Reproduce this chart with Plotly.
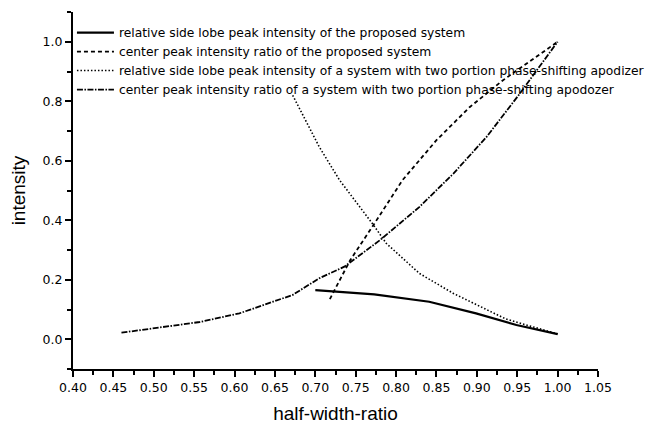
import plotly.graph_objects as go

# relative side lobe peak intensity of the proposed system
x_sl_prop = [0.700, 0.773, 0.841, 0.899, 0.949, 1.000]
y_sl_prop = [0.165, 0.151, 0.126, 0.087, 0.048, 0.017]

# center peak intensity ratio of the proposed system
x_cp_prop = [0.718, 0.743, 0.772, 0.808, 0.850, 0.891, 0.932, 0.973, 1.000]
y_cp_prop = [0.135, 0.265, 0.384, 0.535, 0.669, 0.780, 0.870, 0.949, 1.000]

# relative side lobe peak intensity of a system with two portion apodizer
x_sl_two = [0.672, 0.705, 0.730, 0.772, 0.788, 0.829, 0.871, 0.908, 0.936, 0.965, 1.000]
y_sl_two = [0.820, 0.646, 0.535, 0.384, 0.322, 0.221, 0.154, 0.104, 0.068, 0.045, 0.018]

# center peak intensity ratio of a system with two portion apodozer
x_cp_two = [0.460, 0.503, 0.557, 0.606, 0.640, 0.672, 0.705, 0.736, 0.780, 0.829, 0.871, 0.912, 0.953, 1.000]
y_cp_two = [0.022, 0.039, 0.058, 0.087, 0.118, 0.149, 0.205, 0.244, 0.333, 0.445, 0.557, 0.680, 0.825, 1.000]

names = [
    "relative side lobe peak intensity of the proposed system",
    "center peak intensity ratio of the proposed system",
    "relative side lobe peak intensity of a system with two portion phase-shifting apodizer",
    "center peak intensity ratio of a system with two portion phase-shifting apodozer",
]

fig = go.Figure()
fig.add_trace(go.Scatter(x=x_sl_prop, y=y_sl_prop, mode="lines", name=names[0],
                         line=dict(color="black", width=2.2, dash="solid")))
fig.add_trace(go.Scatter(x=x_cp_prop, y=y_cp_prop, mode="lines", name=names[1],
                         line=dict(color="black", width=1.8, dash="4px,3px")))
fig.add_trace(go.Scatter(x=x_sl_two, y=y_sl_two, mode="lines", name=names[2],
                         line=dict(color="black", width=1.6, dash="1.5px,2px")))
fig.add_trace(go.Scatter(x=x_cp_two, y=y_cp_two, mode="lines", name=names[3],
                         line=dict(color="black", width=1.8, dash="6px,1.5px,1.5px,1.5px")))

font = "DejaVu Sans, Arial, sans-serif"
tfont = "Liberation Sans, Arial, sans-serif"
fig.update_layout(
    width=646, height=416,
    margin=dict(l=65, r=56, t=4, b=55),
    paper_bgcolor="white", plot_bgcolor="white",
    font=dict(family=font, color="black", size=12),
    showlegend=True,
    legend=dict(x=-0.002, y=0.983, xanchor="left", yanchor="top",
                bgcolor="rgba(0,0,0,0)", font=dict(size=12.3, family=font),
                tracegroupgap=0, itemwidth=37),
    xaxis=dict(range=[0.40, 1.05], dtick=0.05, tickformat=".2f", automargin=False,
               showline=True, linecolor="black", linewidth=2,
               ticks="outside", ticklen=6, tickwidth=2, tickcolor="black",
               showgrid=False, zeroline=False,
               tickfont=dict(size=12.5, family=font),
               minor=dict(dtick=0.025, ticks="outside", ticklen=4, tickwidth=2,
                          tickcolor="black", showgrid=False),
               title=dict(text="half-width-ratio", font=dict(size=19, family=tfont), standoff=26)),
    yaxis=dict(range=[-0.1, 1.1], tickvals=[0.0, 0.2, 0.4, 0.6, 0.8, 1.0], tickformat=".1f",
               automargin=False,
               showline=True, linecolor="black", linewidth=2,
               ticks="outside", ticklen=6, tickwidth=2, tickcolor="black",
               showgrid=False, zeroline=False,
               tickfont=dict(size=12.5, family=font),
               minor=dict(dtick=0.1, tick0=-0.1, ticks="outside", ticklen=4, tickwidth=2,
                          tickcolor="black", showgrid=False),
               title=dict(text="intensity", font=dict(size=19, family=tfont), standoff=14)),
)

fig.write_html("out.html")
